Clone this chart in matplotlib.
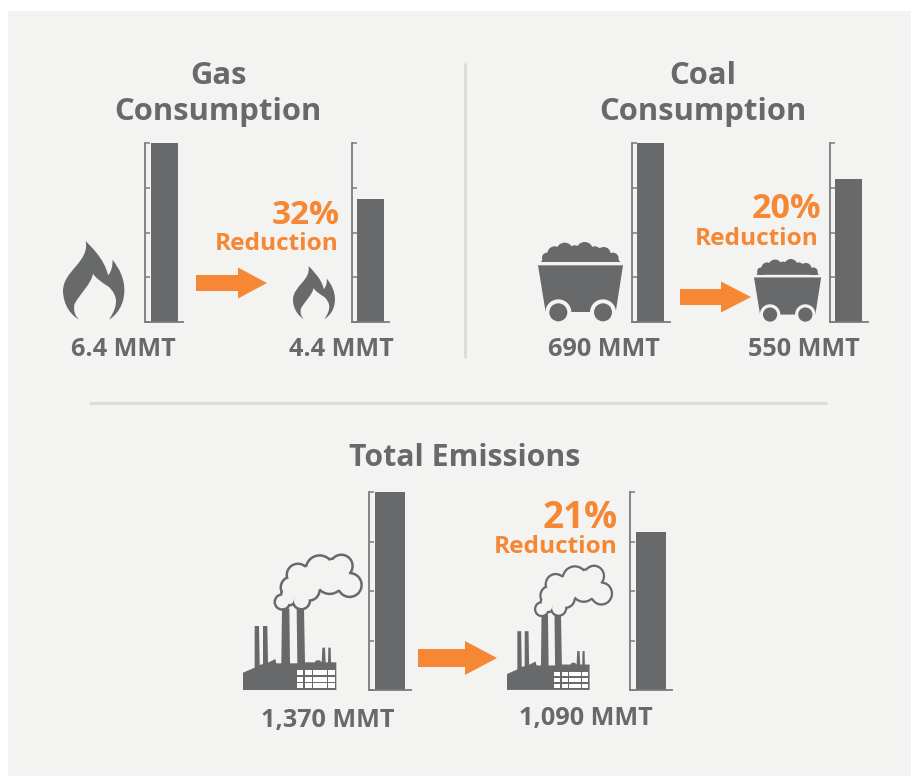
import matplotlib
matplotlib.use('Agg')
import numpy as np
from matplotlib import pyplot as plt
from matplotlib.patches import Circle, PathPatch, Polygon, Rectangle
from matplotlib.path import Path
from matplotlib.transforms import Affine2D

W, H = 912, 776
GRAY = '#68696b'
AXIS = '#7a7b7d'
ORANGE = '#f58735'
PANEL = '#f3f3f2'
RULE = '#dcdcda'

plt.rcParams['font.family'] = ['Open Sans', 'DejaVu Sans']

# values in MMT
gas_values = [6.4, 4.4]
coal_values = [690, 550]
total_values = [1370, 1090]
gas_labels = ['6.4 MMT', '4.4 MMT']
coal_labels = ['690 MMT', '550 MMT']
total_labels = ['1,370 MMT', '1,090 MMT']
reductions = ['32%', '20%', '21%']


def px_rect(x0, y0, x1, y1):
    return [x0 / W, 1 - y1 / H, (x1 - x0) / W, (y1 - y0) / H]


def mini_bar(value, full, x0, x1, y0, y1, bar_x0, bar_x1):
    # spine at x0, baseline runs out to x1, full scale reaches y0
    ax = fig.add_axes(px_rect(x0, y0, x1, y1), facecolor='none', zorder=3)
    ax.bar(bar_x0 - x0, value, width=bar_x1 - bar_x0, align='edge', color=GRAY)
    ax.set_xlim(0, x1 - x0)
    ax.set_ylim(0, full)
    ax.set_yticks(np.linspace(0, full, 5))
    ax.set_xticks([])
    ax.tick_params(axis='y', direction='in', length=3.5, width=1.1, color=AXIS, labelleft=False)
    for side in ['top', 'right']:
        ax.spines[side].set_visible(False)
    for side in ['left', 'bottom']:
        ax.spines[side].set_color(AXIS)
        ax.spines[side].set_linewidth(1.3)
    return ax


def place(sx, sy, ox, oy, tx, ty):
    # zoomed sketch coords -> image pixels
    return Affine2D().translate(-ox, -oy).scale(sx, sy).translate(tx, ty) + bg.transData


def arrow(x0, base, tip, yc, half_shaft, half_head):
    bg.add_patch(Polygon([(x0, yc - half_shaft), (base, yc - half_shaft), (base, yc - half_head),
                          (tip, yc), (base, yc + half_head), (base, yc + half_shaft),
                          (x0, yc + half_shaft)], closed=True, fc=ORANGE, ec='none', zorder=4))


FLAME = Path(
    [(138, 332), (150, 345), (195, 385), (205, 435), (215, 425), (220, 405), (218, 388),
     (240, 415), (254, 445), (254, 480), (254, 525), (230, 555), (208, 568),
     (240, 520), (232, 495), (208, 470), (185, 455), (170, 445), (160, 430),
     (155, 460), (125, 485), (105, 520), (100, 540), (105, 555), (118, 568),
     (95, 555), (70, 525), (70, 480), (72, 420), (150, 395), (138, 332), (138, 332)],
    [Path.MOVETO] + [Path.CURVE4] * 30 + [Path.CLOSEPOLY])


def flame(sx, sy, tx, ty):
    bg.add_patch(PathPatch(FLAME, fc=GRAY, ec='none', zorder=4,
                           transform=place(sx, sy, 70, 332, tx, ty)))


HEAP_BASE = [(64, 397), (80, 372), (280, 372), (302, 397)]
HEAP_LUMPS = [(82, 384, 15), (105, 372, 22), (135, 364, 25), (165, 369, 22), (195, 362, 25),
              (225, 372, 22), (252, 373, 21), (280, 386, 17)]


def cart(s, tx, ty):
    tr = place(s / 3, s / 3, 55, 337, tx, ty)
    bg.add_patch(Polygon(HEAP_BASE, closed=True, fc=GRAY, ec='none', zorder=4, transform=tr))
    for cx, cy, r in HEAP_LUMPS:
        bg.add_patch(Circle((cx, cy), r, fc=GRAY, ec='none', zorder=4, transform=tr))
    bg.add_patch(Rectangle((50, 396), 265, 11, fc=PANEL, ec='none', zorder=4, transform=tr))
    bg.add_patch(Polygon([(55, 407), (310, 407), (288, 548), (78, 548)], closed=True,
                         fc=GRAY, ec='none', zorder=4, transform=tr))
    for cx in [116, 250]:
        bg.add_patch(Circle((cx, 548), 39, fc=PANEL, ec='none', zorder=5, transform=tr))
        bg.add_patch(Circle((cx, 548), 27, fc=GRAY, ec='none', zorder=6, transform=tr))
    bg.add_patch(Rectangle((50, 548), 265, 50, fc=PANEL, ec='none', zorder=4.5, transform=tr))


PLANT = [(40, 630), (40, 578), (75, 563), (75, 438), (88, 438), (90, 555), (100, 552), (100, 438),
         (113, 438), (115, 548), (137, 537), (140, 550), (155, 550), (157, 385), (179, 385),
         (181, 550), (203, 550), (201, 385), (223, 385), (226, 547), (255, 547), (260, 541),
         (270, 541), (276, 547), (278, 503), (286, 503), (288, 547), (295, 547), (296, 503),
         (303, 503), (304, 547), (320, 547), (320, 630)]
# smoke cloud is a union of puffs, outline comes from drawing them twice
PUFFS = [(158, 366, 19), (215, 362, 22), (185, 322, 28), (178, 345, 20), (205, 285, 30), (238, 330, 28),
         (270, 268, 38), (300, 300, 38), (335, 258, 30), (360, 315, 32), (335, 300, 30),
         (240, 300, 40), (205, 325, 30), (180, 360, 12), (310, 270, 30)]
OUTLINE = 7.5
WIN_X = [(201, 221), (225, 247), (250, 291), (295, 316)]
WIN_Y = [(570, 585), (590, 605), (609, 624)]


def plant(sx, sy, tx, ty):
    tr = place(sx, sy, 40, 225, tx, ty)
    for cx, cy, r in PUFFS:
        bg.add_patch(Circle((cx, cy), r + OUTLINE, fc=GRAY, ec='none', zorder=4, transform=tr))
    for cx, cy, r in PUFFS:
        bg.add_patch(Circle((cx, cy), r, fc=PANEL, ec='none', zorder=4.5, transform=tr))
    bg.add_patch(Polygon(PLANT, closed=True, fc=GRAY, ec='none', zorder=5, transform=tr))
    for xa, xb in WIN_X:
        for ya, yb in WIN_Y:
            bg.add_patch(Rectangle((xa, ya), xb - xa, yb - ya, fc='white', ec='none', zorder=6, transform=tr))


fig = plt.figure(figsize=(W / 100, H / 100), dpi=100, facecolor='white')

# pixel canvas for the panel, titles and icons
bg = fig.add_axes([0, 0, 1, 1], zorder=1)
bg.set_xlim(0, W)
bg.set_ylim(H, 0)
bg.axis('off')
bg.add_patch(Rectangle((8, 11), W - 8, H - 11, fc=PANEL, ec='none'))
bg.plot([465, 465], [63, 358], color=RULE, lw=2.2, solid_capstyle='butt')
bg.plot([89, 827], [403, 403], color=RULE, lw=2.2, solid_capstyle='butt')


def label(x, y, s, size=18, color=GRAY, ha='center'):
    bg.text(x, y, s, fontsize=size, color=color, ha=ha, va='baseline', fontweight='bold', zorder=7)


label(218, 84, 'Gas', 22.3)
label(218, 120, 'Consumption', 22.3)
label(703, 84, 'Coal', 22.3)
label(703, 120, 'Consumption', 22.3)
label(465, 466, 'Total Emissions', 21.8)

mini_bar(gas_values[0], gas_values[0], 145, 183, 143, 322, 151, 178)
mini_bar(gas_values[1], gas_values[0], 352, 389, 143, 322, 357, 384)
mini_bar(coal_values[0], coal_values[0], 632, 670, 143, 322, 637, 664)
mini_bar(coal_values[1], coal_values[0], 830, 868, 143, 322, 835, 862)
mini_bar(total_values[0], total_values[0], 369, 411, 492, 690, 375, 405)
mini_bar(total_values[1], total_values[0], 630, 672, 492, 690, 636, 666)

label(123, 356, gas_labels[0], 18.2)
label(341, 356, gas_labels[1], 18.2)
label(604, 356, coal_labels[0], 18.2)
label(804, 356, coal_labels[1], 18.2)
label(328, 727, total_labels[0], 18.2)
label(586, 725, total_labels[1], 18.2)

label(340, 224, reductions[0], 24, ORANGE, 'right')
label(339, 250, 'Reduction', 17.6, ORANGE, 'right')
label(821, 218, reductions[1], 24.5, ORANGE, 'right')
label(819, 245, 'Reduction', 17.6, ORANGE, 'right')
label(618, 528, reductions[2], 26.5, ORANGE, 'right')
label(618, 553, 'Reduction', 17.6, ORANGE, 'right')

arrow(196, 238, 267, 283, 8, 15.5)
arrow(680, 721, 751, 297, 8, 15.5)
arrow(418, 465, 497, 658, 9, 17)

flame(1 / 3, 1 / 3, 63, 241)
flame(0.228, 0.225, 293, 266)
cart(1.0, 538, 242)
cart(0.79, 754, 259)
plant(1 / 3, 1 / 3, 243, 555)
plant(0.295, 0.306, 507, 566)

fig.savefig('out.png', dpi=100)
